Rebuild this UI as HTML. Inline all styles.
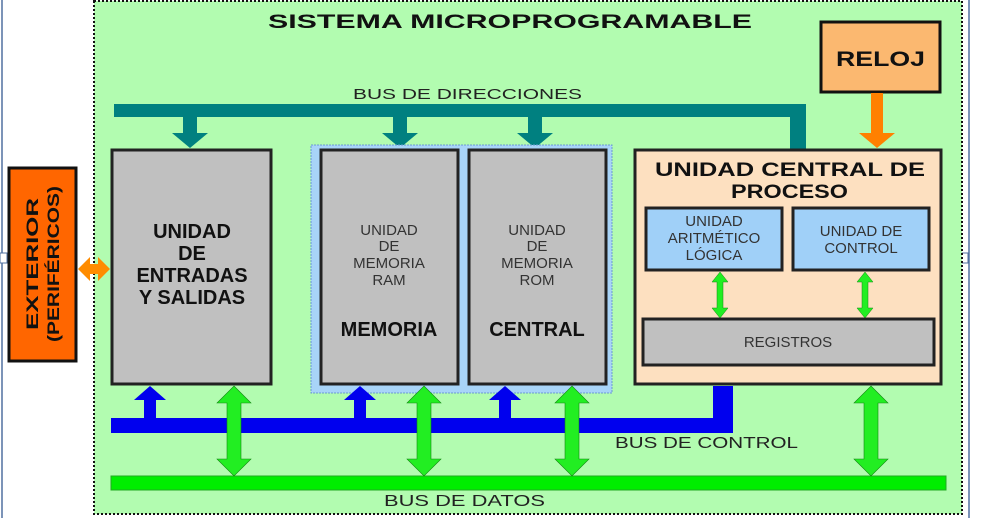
<!DOCTYPE html>
<html><head><meta charset="utf-8"><style>
html,body{margin:0;padding:0;background:#fff;}
svg{display:block;font-family:"Liberation Sans","DejaVu Sans",sans-serif;}
</style></head><body>
<svg width="983" height="518" viewBox="0 0 983 518" xmlns="http://www.w3.org/2000/svg">
<line x1="2" y1="0" x2="2" y2="518" stroke="#5070a0" stroke-width="1.5"/>
<line x1="969" y1="0" x2="969" y2="518" stroke="#5070a0" stroke-width="1.5"/>
<rect x="0" y="253" width="7" height="10" fill="#fff" stroke="#5070a0"/>
<rect x="958" y="253" width="10" height="10" fill="#fff" stroke="#5070a0"/>
<rect x="94" y="1" width="868" height="513" fill="#b2fcb0" stroke="#111" stroke-width="2" stroke-dasharray="2,2"/>
<text x="268" y="28" font-size="19" font-weight="bold" fill="#111" textLength="484" lengthAdjust="spacingAndGlyphs">SISTEMA MICROPROGRAMABLE</text>
<!-- reloj -->
<rect x="821" y="22" width="119" height="70" fill="#fbb870" stroke="#111" stroke-width="3"/>
<text x="836" y="66" font-size="21" font-weight="bold" fill="#111" textLength="89" lengthAdjust="spacingAndGlyphs">RELOJ</text>
<polygon points="871,93 883,93 883,133 895,133 877,148 859,133 871,133" fill="#ff8000"/>
<!-- bus direcciones -->
<text x="353" y="99" font-size="15" fill="#222" textLength="229" lengthAdjust="spacingAndGlyphs">BUS DE DIRECCIONES</text>
<path d="M114,104 H806 V149 H790 V117 H114 Z" fill="#008080"/>
<polygon points="183,117 197,117 197,133 208,133 190,148 172,133 183,133" fill="#008080"/>
<polygon points="393,117 407,117 407,133 418,133 400,148 382,133 393,133" fill="#008080"/>
<polygon points="528,117 542,117 542,133 553,133 535,148 517,133 528,133" fill="#008080"/>
<!-- exterior -->
<rect x="9" y="168" width="67" height="193" fill="#ff6600" stroke="#111" stroke-width="3"/>
<g transform="translate(43,264) rotate(-90)">
<text x="-66" y="-5" font-size="17" font-weight="bold" fill="#111" textLength="132" lengthAdjust="spacingAndGlyphs">EXTERIOR</text>
<text x="-78" y="16" font-size="17" font-weight="bold" fill="#111" textLength="156" lengthAdjust="spacingAndGlyphs">(PERIFÉRICOS)</text>
</g>
<polygon points="78,269 90,257 90,264 98,264 98,257 110,269 98,281 98,274 90,274 90,281" fill="#ff8c00"/>
<!-- E/S -->
<rect x="112" y="150" width="159" height="234" fill="#c0c0c0" stroke="#222" stroke-width="3"/>
<g font-size="20" font-weight="bold" text-anchor="middle" fill="#111">
<text x="192" y="238">UNIDAD</text>
<text x="192" y="260">DE</text>
<text x="192" y="282">ENTRADAS</text>
<text x="192" y="304">Y SALIDAS</text>
</g>
<!-- memory group -->
<rect x="311" y="145" width="301" height="248" fill="#a8d4f8" stroke="#6a9ad0" stroke-width="1" stroke-dasharray="2,1"/>
<rect x="321" y="150" width="137" height="234" fill="#c0c0c0" stroke="#222" stroke-width="3"/>
<rect x="469" y="150" width="137" height="234" fill="#c0c0c0" stroke="#222" stroke-width="3"/>
<g font-size="15" text-anchor="middle" fill="#333">
<text x="389" y="235">UNIDAD</text><text x="389" y="251">DE</text><text x="389" y="268">MEMORIA</text><text x="389" y="285">RAM</text>
<text x="537" y="235">UNIDAD</text><text x="537" y="251">DE</text><text x="537" y="268">MEMORIA</text><text x="537" y="285">ROM</text>
</g>
<text x="389" y="336" font-size="20" font-weight="bold" text-anchor="middle" fill="#111">MEMORIA</text>
<text x="537" y="336" font-size="20" font-weight="bold" text-anchor="middle" fill="#111">CENTRAL</text>
<!-- CPU -->
<rect x="635" y="150" width="306" height="234" fill="#fde0c0" stroke="#222" stroke-width="3"/>
<text x="655" y="176" font-size="19" font-weight="bold" fill="#111" textLength="270" lengthAdjust="spacingAndGlyphs">UNIDAD CENTRAL DE</text>
<text x="731" y="198" font-size="19" font-weight="bold" fill="#111" textLength="117" lengthAdjust="spacingAndGlyphs">PROCESO</text>
<rect x="646" y="208" width="136" height="62" fill="#a0d0f8" stroke="#222" stroke-width="3"/>
<rect x="793" y="208" width="136" height="62" fill="#a0d0f8" stroke="#222" stroke-width="3"/>
<g font-size="15" text-anchor="middle" fill="#333">
<text x="714" y="226">UNIDAD</text><text x="714" y="243">ARITMÉTICO</text><text x="714" y="260">LÓGICA</text>
<text x="861" y="236">UNIDAD DE</text><text x="861" y="253">CONTROL</text>
</g>
<rect x="643" y="319" width="291" height="46" fill="#c0c0c0" stroke="#222" stroke-width="3"/>
<text x="788" y="347" font-size="15" text-anchor="middle" fill="#333">REGISTROS</text>
<polygon points="720,272 728,282 723,282 723,308 728,308 720,318 712,308 717,308 717,282 712,282" fill="#22ee22" stroke="#118811" stroke-width="0.5"/>
<polygon points="865,272 873,282 868,282 868,308 873,308 865,318 857,308 862,308 862,282 857,282" fill="#22ee22" stroke="#118811" stroke-width="0.5"/>
<!-- control bus -->
<path d="M111,418 H713 V386 H733 V433 H111 Z" fill="#0000ee"/>
<polygon points="144,418 156,418 156,400 166,400 150,386 134,400 144,400" fill="#0000ee"/>
<polygon points="354,418 366,418 366,400 376,400 360,386 344,400 354,400" fill="#0000ee"/>
<polygon points="499,418 511,418 511,400 521,400 505,386 489,400 499,400" fill="#0000ee"/>
<text x="615" y="448" font-size="16" fill="#222" textLength="183" lengthAdjust="spacingAndGlyphs">BUS DE CONTROL</text>
<!-- data bus -->
<rect x="111" y="476" width="835" height="14" fill="#00ee00" stroke="#22aa22" stroke-width="1"/>
<text x="384" y="506" font-size="16" fill="#222" textLength="161" lengthAdjust="spacingAndGlyphs">BUS DE DATOS</text>
<g fill="#22ee22" stroke="#118811" stroke-width="0.6">
<polygon points="234,386 251,403 241,403 241,459 251,459 234,476 217,459 227,459 227,403 217,403"/>
<polygon points="424,386 441,403 431,403 431,459 441,459 424,476 407,459 417,459 417,403 407,403"/>
<polygon points="572,386 589,403 579,403 579,459 589,459 572,476 555,459 565,459 565,403 555,403"/>
<polygon points="871,386 888,403 878,403 878,459 888,459 871,476 854,459 864,459 864,403 854,403"/>
</g>
</svg>
</body></html>
